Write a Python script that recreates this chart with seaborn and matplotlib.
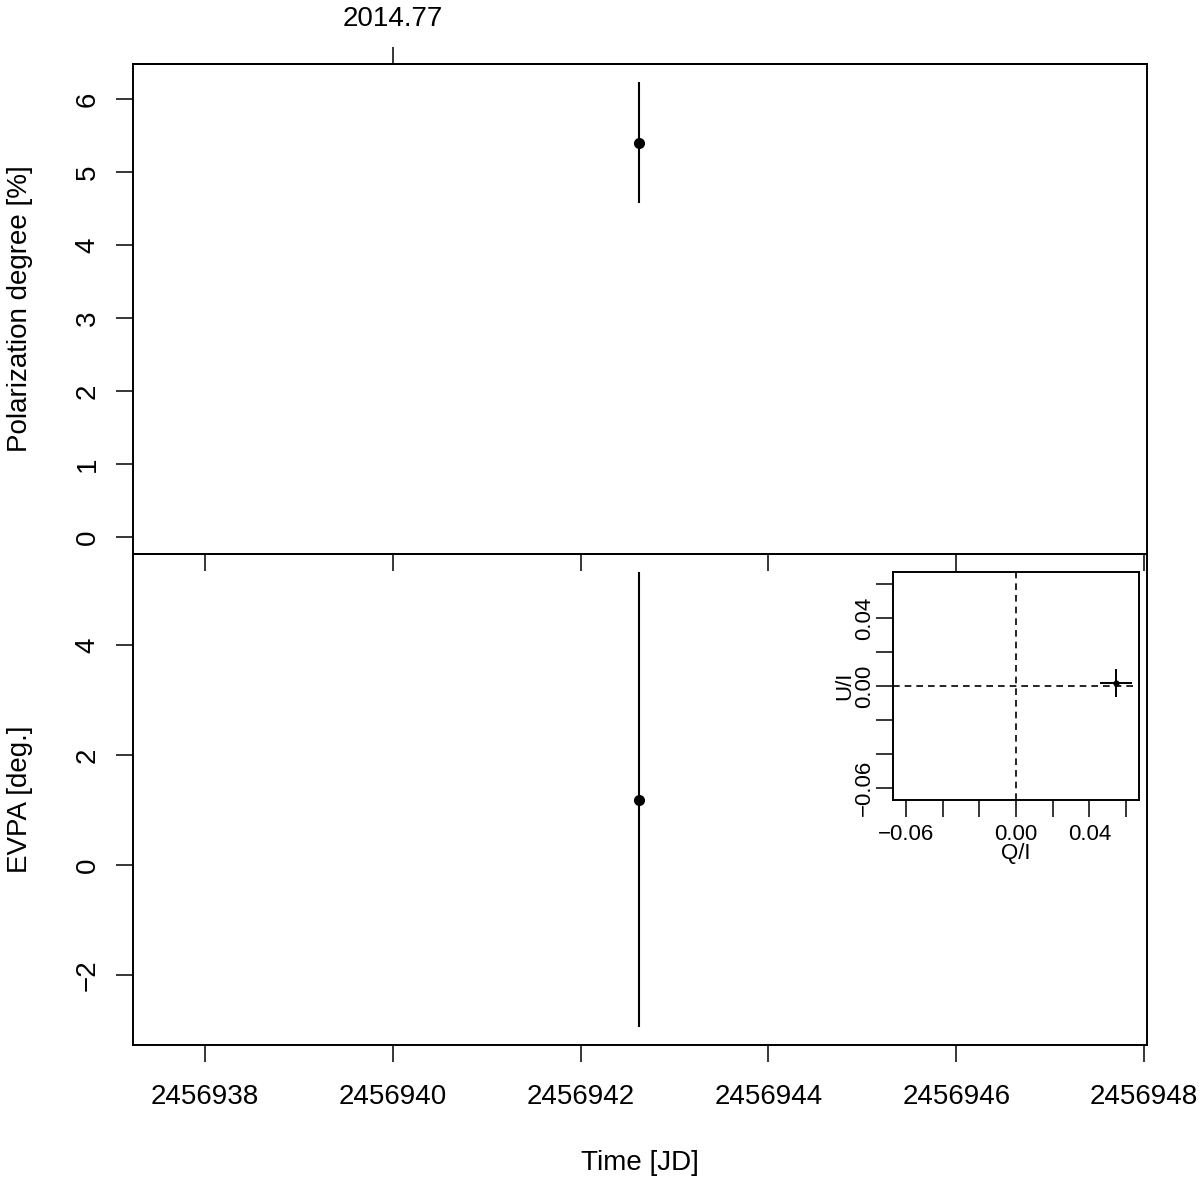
import matplotlib
matplotlib.use("Agg")
import matplotlib.pyplot as plt
import seaborn as sns
import pandas as pd

# ─── Data ────────────────────────────────────────────────────────────────────
jd          = [2456942.62]
pol_deg     = [5.40]
pol_err     = [0.83]
evpa        = [1.19]
evpa_err    = [4.14]
q_i         = [0.0546]
u_i         = [0.0018]
q_err       = [0.0087]
u_err       = [0.0080]

jd_ticks    = [2456938, 2456940, 2456942, 2456944, 2456946, 2456948]
jd_labels   = ["2456938", "2456940", "2456942", "2456944", "2456946", "2456948"]
year_ticks  = [2456940]
year_labels = ["2014.77"]
pol_ticks   = [0, 1, 2, 3, 4, 5, 6]
evpa_ticks  = [-2, 0, 2, 4]
qu_ticks    = [-0.06, -0.04, -0.02, 0.0, 0.02, 0.04, 0.06]
qu_labels   = ["\u22120.06", "", "", "0.00", "", "0.04", ""]

jd_lim      = (2456937.233, 2456948.03)
pol_lim     = (-0.233, 6.479)
evpa_lim    = (-3.27, 5.655)
qu_lim      = (-0.067, 0.067)

# ─── Style ───────────────────────────────────────────────────────────────────
sns.set_style("ticks")
plt.rcParams["font.family"] = ["Liberation Sans", "DejaVu Sans"]
plt.rcParams.update({
    "axes.edgecolor":   "black",
    "axes.labelcolor":  "black",
    "text.color":       "black",
    "axes.linewidth":   1.4,
    "xtick.color":      "black",
    "ytick.color":      "black",
    "xtick.labelcolor": "black",
    "ytick.labelcolor": "black",
    "xtick.major.size": 12.2,
    "ytick.major.size": 12.2,
    "xtick.major.width": 1.1,
    "ytick.major.width": 1.1,
    "xtick.direction":  "out",
    "ytick.direction":  "out",
    "font.size":        20,
})

fig = plt.figure(figsize=(12, 11.8), dpi=100, facecolor="white")
ax_bot = fig.add_axes([0.1108, 0.1144, 0.845, 0.4161])
ax_top = fig.add_axes([0.1108, 0.5305, 0.845, 0.4153])
ax_top.set_zorder(2)
ax_top.patch.set_alpha(0)
ax_in = fig.add_axes([0.7442, 0.322, 0.205, 0.1932])
ax_in.set_zorder(3)

# ─── Top panel: polarization degree ──────────────────────────────────────────
df_p = pd.DataFrame({"jd": jd, "p": pol_deg})
ax_top.errorbar(jd, pol_deg, yerr=pol_err, fmt="none", ecolor="black",
                elinewidth=1.5, capsize=0)
sns.scatterplot(data=df_p, x="jd", y="p", ax=ax_top, color="black",
                s=64, linewidth=0, zorder=3)
ax_top.set_xlim(*jd_lim)
ax_top.set_ylim(*pol_lim)
ax_top.set_xticks(jd_ticks)
ax_top.set_yticks(pol_ticks)
ax_top.tick_params(axis="x", labelbottom=False)
ax_top.tick_params(axis="y", labelrotation=90, pad=11, labelsize=20)
for t in ax_top.get_yticklabels():
    t.set_va("center")
ax_top.set_xlabel("")
ax_top.set_ylabel("Polarization degree [%]", fontsize=20)
ax_top.yaxis.set_label_coords(-0.099, 0.5)

sec = ax_top.secondary_xaxis("top")
sec.set_xticks(year_ticks, labels=year_labels)
sec.tick_params(axis="x", pad=11, labelsize=20, length=12.2, width=1.1)

# ─── Bottom panel: EVPA ──────────────────────────────────────────────────────
df_e = pd.DataFrame({"jd": jd, "evpa": evpa})
ax_bot.errorbar(jd, evpa, yerr=evpa_err, fmt="none", ecolor="black",
                elinewidth=1.5, capsize=0)
sns.scatterplot(data=df_e, x="jd", y="evpa", ax=ax_bot, color="black",
                s=64, linewidth=0, zorder=3)
ax_bot.set_xlim(*jd_lim)
ax_bot.set_ylim(*evpa_lim)
ax_bot.set_xticks(jd_ticks, labels=jd_labels)
ax_bot.set_yticks(evpa_ticks)
ax_bot.tick_params(axis="x", pad=16, labelsize=20)
ax_bot.tick_params(axis="y", labelrotation=90, pad=11, labelsize=20)
for t in ax_bot.get_yticklabels():
    t.set_va("center")
ax_bot.set_xlabel("Time [JD]", fontsize=20)
ax_bot.xaxis.set_label_coords(0.5, -0.213)
ax_bot.set_ylabel("EVPA [deg.]", fontsize=20)
ax_bot.yaxis.set_label_coords(-0.099, 0.5)

# ─── Inset: Q/I vs U/I ───────────────────────────────────────────────────────
ax_in.axhline(0, color="black", lw=1.2, ls=(0, (4, 3)))
ax_in.axvline(0, color="black", lw=1.2, ls=(0, (4, 3)))
ax_in.errorbar(q_i, u_i, xerr=q_err, yerr=u_err, fmt="none", ecolor="black",
               elinewidth=1.4, capsize=0)
df_qu = pd.DataFrame({"q": q_i, "u": u_i})
sns.scatterplot(data=df_qu, x="q", y="u", ax=ax_in, color="black",
                s=20, linewidth=0, zorder=3)
ax_in.set_xlim(*qu_lim)
ax_in.set_ylim(*qu_lim)
ax_in.set_xticks(qu_ticks, labels=qu_labels)
ax_in.set_yticks(qu_ticks, labels=qu_labels)
ax_in.tick_params(axis="x", pad=5, labelsize=16)
ax_in.tick_params(axis="y", labelrotation=90, pad=1, labelsize=16)
for t in ax_in.get_yticklabels():
    t.set_va("center")
ax_in.set_xlabel("Q/I", fontsize=16)
ax_in.xaxis.set_label_coords(0.5, -0.19)
ax_in.set_ylabel("U/I", fontsize=16)
ax_in.yaxis.set_label_coords(-0.155, 0.5)

fig.savefig("out.png", dpi=100, facecolor="white")
plt.close(fig)
